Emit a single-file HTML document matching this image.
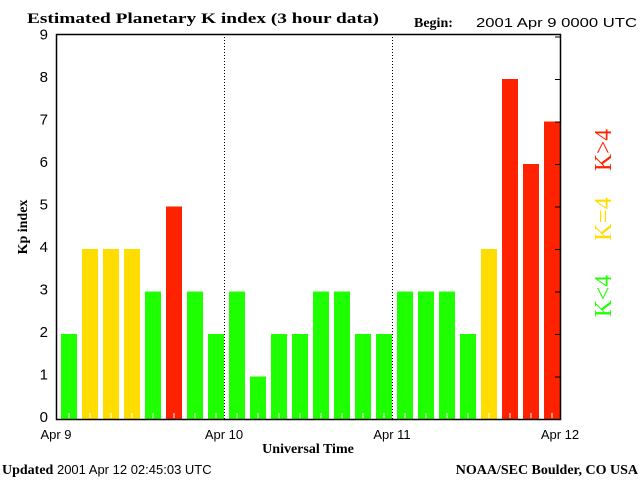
<!DOCTYPE html>
<html><head><meta charset="utf-8"><style>
body{margin:0;background:#fff;}
svg{display:block;}
.serif{font-family:"Liberation Serif",serif;font-weight:bold;}
.sans{font-family:"Liberation Sans",sans-serif;}
</style></head><body>
<svg id="chart" width="640" height="480">
<text class="serif" x="27" y="23" font-size="15" textLength="352" lengthAdjust="spacingAndGlyphs">Estimated Planetary K index (3 hour data)</text>
<text class="serif" x="414" y="27" font-size="14">Begin:</text>
<text class="sans" x="476" y="27" font-size="13" textLength="161" lengthAdjust="spacingAndGlyphs">2001 Apr 9 0000 UTC</text>
<g id="bars"></g>
<g id="axes"></g>
<text class="serif" x="27" y="227" font-size="14" transform="rotate(-90 27 227)" text-anchor="middle">Kp index</text>
<text class="serif" x="308" y="453" font-size="14" text-anchor="middle">Universal Time</text>
<text x="2" y="474" font-size="14"><tspan class="serif">Updated</tspan><tspan class="sans" font-size="13"> 2001 Apr 12 02:45:03 UTC</tspan></text>
<text class="serif" x="638" y="474" font-size="14" text-anchor="end">NOAA/SEC Boulder, CO USA</text>
<text x="604" y="150" font-family="Liberation Serif,serif" font-size="24" fill="#ff2200" text-anchor="middle" dominant-baseline="central" textLength="42" lengthAdjust="spacingAndGlyphs" transform="rotate(-90 604 150)">K&gt;4</text>
<text x="604" y="219" font-family="Liberation Serif,serif" font-size="24" fill="#ffdd00" text-anchor="middle" dominant-baseline="central" textLength="44" lengthAdjust="spacingAndGlyphs" transform="rotate(-90 604 219)">K=4</text>
<text x="604" y="296" font-family="Liberation Serif,serif" font-size="24" fill="#1eff00" text-anchor="middle" dominant-baseline="central" textLength="42" lengthAdjust="spacingAndGlyphs" transform="rotate(-90 604 296)">K&lt;4</text>
</svg>
<script>
const kpValues=[2,4,4,4,3,5,3,2,3,1,2,2,3,3,2,2,3,3,3,2,4,8,6,7];
const yTicks=[0,1,2,3,4,5,6,7,8,9];
const dayLabels=["Apr 9","Apr 10","Apr 11","Apr 12"];
const NS="http://www.w3.org/2000/svg";
const L=56,R=560,B=419,T=34;
const slot=(R-L)/kpValues.length;
function x(i){return L+i*slot;}
function y(v){return B-v*42.5;}
function mk(tag,attrs,parent){const e=document.createElementNS(NS,tag);for(const k in attrs)e.setAttribute(k,attrs[k]);parent.appendChild(e);return e;}
const bars=document.getElementById('bars'),axes=document.getElementById('axes');
kpValues.forEach((v,i)=>{
  const c=v<4?'#1eff00':(v==4?'#ffdd00':'#ff2200');
  const r=mk('rect',{x:x(i)+5,y:y(v),width:16,height:B-y(v),fill:c},bars);
  
  
  const t=mk('line',{x1:x(i)+13,x2:x(i)+13,y1:B-6,y2:B-1,stroke:'#fff','stroke-width':1},bars);
  
  
});
for(let d=1;d<dayLabels.length-1;d++){
  const xx=L+d*(R-L)/(dayLabels.length-1);
  const dl=mk('line',{x1:xx+0.5,x2:xx+0.5,y1:T,y2:B,stroke:'#000','stroke-dasharray':'1,2'},axes);
  
  
}
const fr=mk('rect',{x:L+0.5,y:T+0.5,width:R-L,height:B-T,fill:'none',stroke:'#000','stroke-width':1.5},axes);


yTicks.forEach(v=>{
  const t=mk('text',{x:48,y:y(v)+3,'font-size':15,'text-anchor':'end','font-family':'Liberation Sans,sans-serif'},axes);
  t.textContent=v;
  
  
  const tk=mk('line',{x1:R-5,x2:R,y1:y(v)+0.5,y2:y(v)+0.5,stroke:'#000'},axes);
  
  
});
dayLabels.forEach((s,d)=>{
  const xx=L+d*(R-L)/(dayLabels.length-1);
  const t=mk('text',{x:xx,y:439,'font-size':13,'text-anchor':'middle','font-family':'Liberation Sans,sans-serif'},axes);
  t.textContent=s;
  
  
});
</script>
</body></html>
